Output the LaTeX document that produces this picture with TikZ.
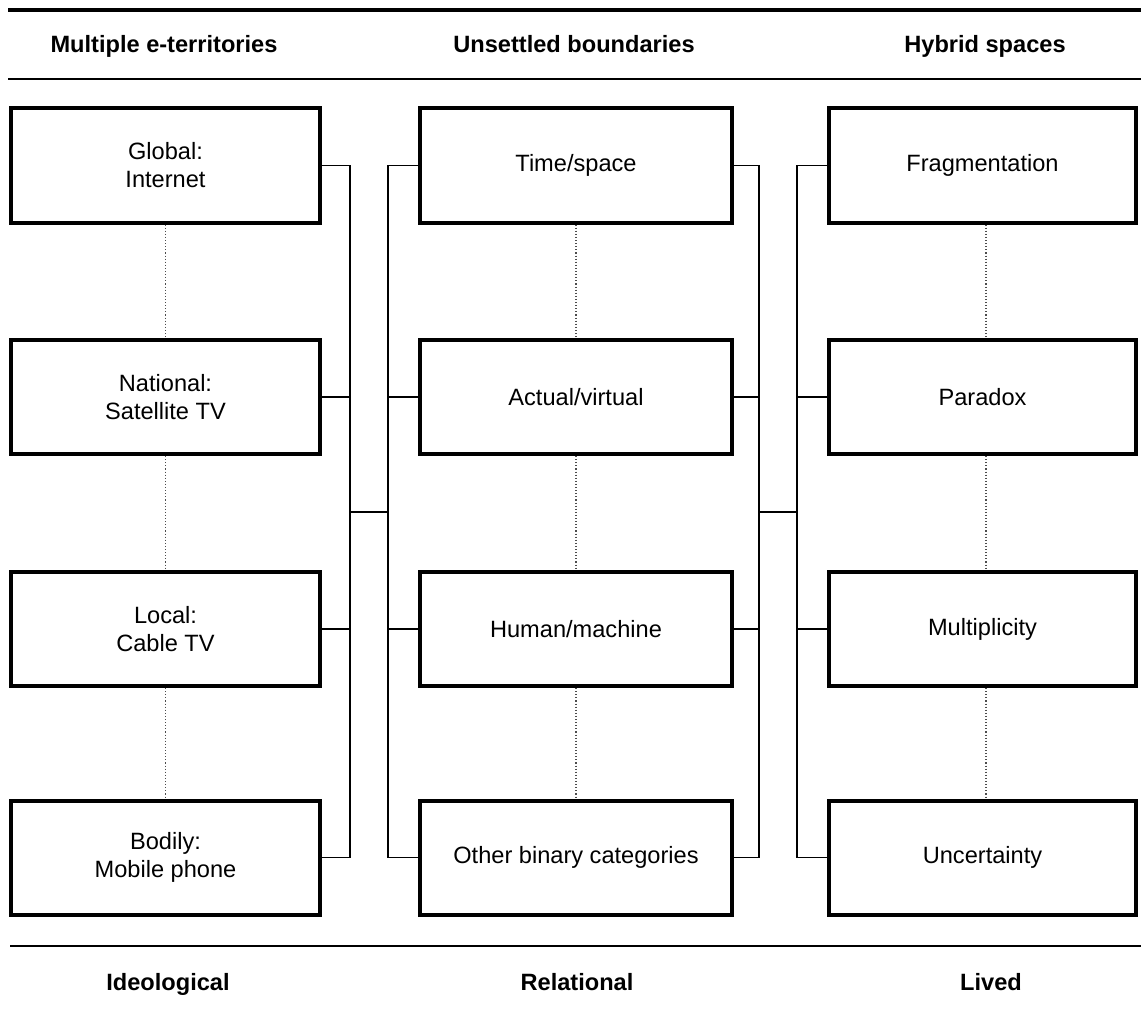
\documentclass[tikz,border=0pt]{standalone}
\usepackage{fontspec}
\setmainfont{Liberation Sans}
\begin{document}
\begin{tikzpicture}[x=0.5pt,y=-0.5pt,
  every node/.style={font=\fontsize{11.8pt}{14pt}\selectfont},
  boxA/.style={draw,line width=2pt,rectangle,align=center,minimum width=154.5pt,minimum height=57pt,inner sep=0pt},
  boxB/.style={boxA,minimum width=156pt},
  boxC/.style={boxA,minimum width=153.5pt},
  head/.style={font=\fontsize{11.8pt}{14pt}\selectfont\bfseries,anchor=base,inner sep=0pt},
  conn/.style={line width=0.85pt},
  dotl/.style={densely dotted,line width=0.55pt,black!70},
  rule/.style={line width=0.8pt}]
\useasboundingbox (0,0) rectangle (1141,1011);
% rules
\draw[line width=1.9pt] (8,10) -- (1141,10);
\draw[rule] (8,79) -- (1141,79);
\draw[rule] (10,946) -- (1141,946);
% headers
\node[head] (h1) at (164,53) {Multiple e-territories};
\node[head] (h2) at (574,53) {Unsettled boundaries};
\node[head] (h3) at (985,53) {Hybrid spaces};
\node[head] (f1) at (168,990) {Ideological};
\node[head] (f2) at (577,990) {Relational};
\node[head] (f3) at (991,990) {Lived};
% column 1
\node[boxA] (a1) at (165.5,165.5) {Global:\\Internet};
\node[boxA] (a2) at (165.5,397) {National:\\Satellite TV};
\node[boxA] (a3) at (165.5,629) {Local:\\Cable TV};
\node[boxA] (a4) at (165.5,857.5) {Bodily:\\Mobile phone};
% column 2
\node[boxB] (b1) at (576,165.5) {Time/space};
\node[boxB] (b2) at (576,397) {Actual/virtual};
\node[boxB] (b3) at (576,629) {Human/machine};
\node[boxB] (b4) at (576,857.5) {Other binary categories};
% column 3
\node[boxC] (c1) at (982.5,165.5) {Fragmentation};
\node[boxC] (c2) at (982.5,397) {Paradox};
\node[boxC] (c3) at (982.5,629) {Multiplicity};
\node[boxC] (c4) at (982.5,857.5) {Uncertainty};
% dotted links
\draw[dotl] (a1.south) -- (a2.north);
\draw[dotl] (a2.south) -- (a3.north);
\draw[dotl] (a3.south) -- (a4.north);
\draw[dotl] (b1.south) -- (b2.north);
\draw[dotl] (b2.south) -- (b3.north);
\draw[dotl] (b3.south) -- (b4.north);
\draw[dotl] ([xshift=1.75pt]c1.south) -- ([xshift=1.75pt]c2.north);
\draw[dotl] ([xshift=1.75pt]c2.south) -- ([xshift=1.75pt]c3.north);
\draw[dotl] ([xshift=1.75pt]c3.south) -- ([xshift=1.75pt]c4.north);
% buses
\coordinate (busA) at (350,512);
\coordinate (busB) at (388,512);
\coordinate (busC) at (759,512);
\coordinate (busD) at (797,512);
\foreach \n in {a1,a2,a3,a4} \draw[conn] (\n.east) -| (busA);
\draw[conn] (busA) -- (busB);
\foreach \n in {b1,b2,b3,b4} \draw[conn] (busB) |- (\n.west);
\foreach \n in {b1,b2,b3,b4} \draw[conn] (\n.east) -| (busC);
\draw[conn] (busC) -- (busD);
\foreach \n in {c1,c2,c3,c4} \draw[conn] (busD) |- (\n.west);
\end{tikzpicture}
\end{document}
